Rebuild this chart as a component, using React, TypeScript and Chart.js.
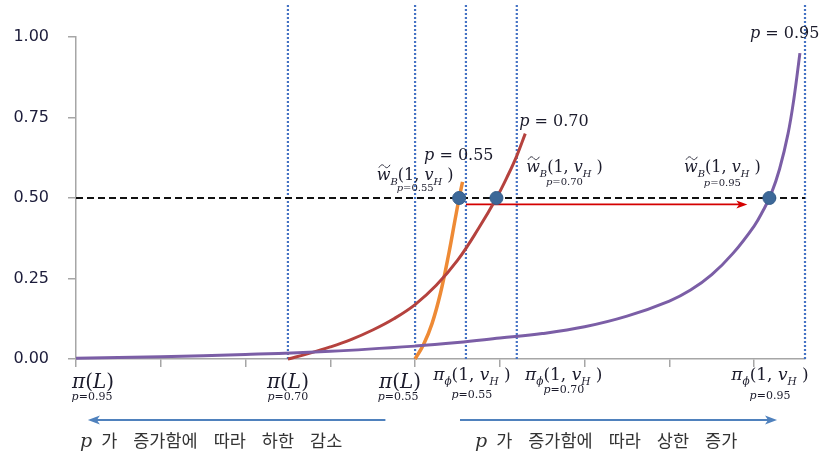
import React, { useEffect, useRef } from "react";
import { Chart, registerables } from "chart.js";

Chart.register(...registerables);

// Axis ticks
const xTicks = [0, 1, 2, 3, 4, 5, 6, 7, 8];
const yTicks = [0, 0.25, 0.5, 0.75, 1];

// Bounds: lower bound π(L) and upper bound π_φ(1, v_H) for each p
const lowerBounds = [0, 2.5, 4.0]; // p = 0.95, 0.70, 0.55
const upperBounds = [8.6, 5.2, 4.6]; // p = 0.95, 0.70, 0.55

// p = 0.95 curve
const curve95X = [0, 1, 2, 3, 4, 4.5, 5, 5.5, 6, 6.5, 7, 7.25, 7.5, 7.75, 8.0, 8.1, 8.2, 8.3, 8.4, 8.47, 8.54];
const curve95Y = [0.002, 0.007, 0.014, 0.024, 0.04, 0.051, 0.065, 0.079, 0.1, 0.133, 0.18, 0.214, 0.262, 0.328, 0.413, 0.458, 0.512, 0.59, 0.7, 0.81, 0.95];

// p = 0.70 curve
const curve70X = [2.5, 2.75, 3.0, 3.25, 3.5, 3.75, 4.0, 4.25, 4.5, 4.75, 4.96, 5.1, 5.2, 5.3];
const curve70Y = [0, 0.0175, 0.0375, 0.061, 0.09, 0.125, 0.169, 0.229, 0.306, 0.406, 0.5, 0.573, 0.631, 0.7];

// p = 0.55 curve
const curve55X = [4.0, 4.1, 4.2, 4.3, 4.4, 4.47, 4.52, 4.56];
const curve55Y = [0, 0.045, 0.11, 0.205, 0.33, 0.43, 0.5, 0.55];

// Threshold and crossing points w̃_B(1, v_H)
const threshold = 0.5;
const crossX = [8.18, 4.96, 4.52];

// Shift of the upper bound (red arrow)
const shiftFrom = 4.6;
const shiftTo = 7.92;
const shiftLevel = 0.48;

const pLabels = ["0.95", "0.70", "0.55"];

const lowerCaption = ["가", "증가함에", "따라", "하한", "감소"];
const upperCaption = ["가", "증가함에", "따라", "상한", "증가"];

type Seg = { t: string; it?: boolean; sub?: boolean; tilde?: boolean };

const SERIF = '"DejaVu Serif", "Liberation Serif", serif';
const KR = '"Noto Sans CJK KR", sans-serif';

function segFont(s: Seg, size: number) {
  const sz = s.sub ? size * 0.62 : size;
  return `${s.it ? "italic " : ""}${sz}px ${SERIF}`;
}

function drawMath(
  ctx: CanvasRenderingContext2D,
  segs: Seg[],
  x: number,
  y: number,
  size: number,
  align: "left" | "center",
  color: string
) {
  ctx.save();
  ctx.textBaseline = "alphabetic";
  ctx.textAlign = "left";
  ctx.fillStyle = color;
  ctx.strokeStyle = color;
  let total = 0;
  const widths = segs.map((s) => {
    ctx.font = segFont(s, size);
    const w = ctx.measureText(s.t).width;
    total += w;
    return w;
  });
  let cx = align === "center" ? x - total / 2 : x;
  segs.forEach((s, i) => {
    ctx.font = segFont(s, size);
    const by = s.sub ? y + size * 0.3 : y;
    ctx.fillText(s.t, cx, by);
    if (s.tilde) {
      // wavy accent over the glyph
      const x0 = cx + 2;
      const x1 = cx + widths[i] - 0.5;
      const ty = by - size * 0.86;
      const a = size * 0.09;
      const m = (x1 - x0) / 4;
      ctx.lineWidth = 0.9;
      ctx.beginPath();
      ctx.moveTo(x0, ty + a);
      ctx.bezierCurveTo(x0 + m, ty - 2 * a, x0 + m * 1.5, ty - a, x0 + 2 * m, ty);
      ctx.bezierCurveTo(x0 + m * 2.5, ty + a, x0 + m * 3, ty + 2 * a, x1, ty - a);
      ctx.stroke();
    }
    cx += widths[i];
  });
  ctx.restore();
}

function drawCaption(ctx: CanvasRenderingContext2D, words: string[], x: number, y: number, color: string) {
  ctx.save();
  ctx.textBaseline = "alphabetic";
  ctx.textAlign = "left";
  ctx.fillStyle = color;
  ctx.font = `italic 19px ${SERIF}`;
  ctx.fillText("p", x, y);
  let cx = x + ctx.measureText("p").width + 9;
  ctx.font = `17.5px ${KR}`;
  words.forEach((w) => {
    ctx.fillText(w, cx, y);
    cx += ctx.measureText(w).width + 16;
  });
  ctx.restore();
}

function arrowHead(
  ctx: CanvasRenderingContext2D,
  x: number,
  y: number,
  dir: number,
  len: number,
  half: number,
  color: string
) {
  ctx.save();
  ctx.fillStyle = color;
  ctx.beginPath();
  ctx.moveTo(x, y);
  ctx.lineTo(x - dir * len, y - half);
  ctx.lineTo(x - dir * len * 0.75, y);
  ctx.lineTo(x - dir * len, y + half);
  ctx.closePath();
  ctx.fill();
  ctx.restore();
}

const pEq = (p: string): Seg[] => [{ t: "p", it: true }, { t: " = " + p }];
const pSub = (p: string): Seg[] => [{ t: "p", it: true }, { t: "=" + p }];
const wLabel: Seg[] = [
  { t: "w", it: true, tilde: true },
  { t: "B", it: true, sub: true },
  { t: "(1, " },
  { t: "v", it: true },
  { t: "H", it: true, sub: true },
  { t: " )" },
];
const piPhi: Seg[] = [
  { t: "π", it: true },
  { t: "ϕ", it: true, sub: true },
  { t: "(1, " },
  { t: "v", it: true },
  { t: "H", it: true, sub: true },
  { t: " )" },
];
const piL: Seg[] = [{ t: "π", it: true }, { t: "(" }, { t: "L", it: true }, { t: ")" }];

const TEXT = "#1b1b2b";
const BLUE = "#4f81bd";

const annotations = {
  id: "annotations",
  afterDraw(chart: any) {
    const { ctx, chartArea, scales } = chart;
    const xs = (v: number) => scales.x.getPixelForValue(v);
    const ys = (v: number) => scales.y.getPixelForValue(v);
    const b = chartArea.bottom;

    // arrowhead of the red shift arrow
    arrowHead(ctx, xs(shiftTo), ys(shiftLevel), 1, 11, 4, "#d40000");

    // curve labels at the top
    drawMath(ctx, pEq(pLabels[0]), xs(8.6) - 55, 38, 16, "left", TEXT);
    drawMath(ctx, pEq(pLabels[1]), xs(5.3) - 6, 126, 16, "left", TEXT);
    drawMath(ctx, pEq(pLabels[2]), xs(4.0) + 9, 160, 16, "left", TEXT);

    // w̃_B(1, v_H) labels near the crossings
    const wPos = [
      { c: xs(crossX[0]) - 47, y: 172, sy: 186 },
      { c: xs(crossX[1]) + 68, y: 172, sy: 185 },
      { c: xs(crossX[2]) - 44, y: 180, sy: 191 },
    ];
    wPos.forEach((w, i) => {
      drawMath(ctx, wLabel, w.c, w.y, 16, "center", TEXT);
      drawMath(ctx, pSub(pLabels[i]), w.c, w.sy, 10, "center", TEXT);
    });

    // lower bound labels under the axis
    const lPos = [
      { c: xs(lowerBounds[0]) + 17, sc: xs(lowerBounds[0]) + 16 },
      { c: xs(lowerBounds[1]), sc: xs(lowerBounds[1]) },
      { c: xs(lowerBounds[2]) - 15, sc: xs(lowerBounds[2]) - 17 },
    ];
    lPos.forEach((l, i) => {
      drawMath(ctx, piL, l.c, b + 29, 20, "center", TEXT);
      drawMath(ctx, pSub(pLabels[i]), l.sc, b + 41, 11, "center", TEXT);
    });

    // upper bound labels under the axis
    const uPos = [
      { c: xs(upperBounds[0]) - 35, sy: b + 40 },
      { c: xs(upperBounds[1]) + 47, sy: b + 34 },
      { c: xs(upperBounds[2]) + 6, sy: b + 39 },
    ];
    uPos.forEach((u, i) => {
      drawMath(ctx, piPhi, u.c, b + 21, 17, "center", TEXT);
      drawMath(ctx, pSub(pLabels[i]), u.c, u.sy, 11, "center", TEXT);
    });

    // direction arrows below the axis
    const ay = b + 61;
    ctx.save();
    ctx.strokeStyle = BLUE;
    ctx.lineWidth = 2;
    ctx.beginPath();
    ctx.moveTo(xs(3.65), ay);
    ctx.lineTo(xs(0.14) + 6, ay);
    ctx.moveTo(xs(4.53), ay);
    ctx.lineTo(xs(8.27) - 6, ay);
    ctx.stroke();
    ctx.restore();
    arrowHead(ctx, xs(0.14), ay, -1, 12, 4.5, BLUE);
    arrowHead(ctx, xs(8.27), ay, 1, 12, 4.5, BLUE);

    drawCaption(ctx, lowerCaption, 80, b + 88, "#333333");
    drawCaption(ctx, upperCaption, 475, b + 88, "#333333");
  },
};

const pts = (xsArr: number[], ysArr: number[]) => xsArr.map((x, i) => ({ x, y: ysArr[i] }));

export default function App() {
  const ref = useRef<HTMLCanvasElement>(null);

  useEffect(() => {
    if (!ref.current) return;
    const allBounds = [...lowerBounds.slice(1), ...upperBounds];

    const curve = (xsArr: number[], ysArr: number[], color: string, width: number) => ({
      data: pts(xsArr, ysArr),
      borderColor: color,
      borderWidth: width,
      pointRadius: 0,
      tension: 0.4,
      clip: false,
      order: 3,
    });

    const datasets: any[] = [
      ...allBounds.map((v) => ({
        data: [
          { x: v, y: 0 },
          { x: v, y: 1.1 },
        ],
        borderColor: "#4472c4",
        borderWidth: 2.2,
        borderDash: [2, 2],
        pointRadius: 0,
        clip: false,
        order: 10,
      })),
      {
        data: [
          { x: 0, y: threshold },
          { x: 8.6, y: threshold },
        ],
        borderColor: "#111111",
        borderWidth: 1.8,
        borderDash: [7, 4],
        pointRadius: 0,
        order: 5,
      },
      {
        data: [
          { x: shiftFrom, y: shiftLevel },
          { x: shiftTo - 0.08, y: shiftLevel },
        ],
        borderColor: "#d40000",
        borderWidth: 1.8,
        pointRadius: 0,
        order: 5,
      },
      curve(curve95X, curve95Y, "#7b5ea6", 3),
      curve(curve70X, curve70Y, "#b5423e", 3),
      curve(curve55X, curve55Y, "#ee8a35", 3.5),
      {
        type: "scatter",
        data: crossX.map((x) => ({ x, y: threshold })),
        backgroundColor: "#3d6898",
        borderColor: "#345d8a",
        borderWidth: 1,
        pointRadius: 6.5,
        clip: false,
        order: 1,
      },
    ];

    const chart = new Chart(ref.current, {
      type: "line",
      data: { datasets },
      options: {
        animation: false,
        responsive: true,
        maintainAspectRatio: false,
        layout: { padding: { top: 37, right: 16, left: 0, bottom: 0 } },
        plugins: { legend: { display: false }, tooltip: { enabled: false } },
        scales: {
          x: {
            type: "linear",
            min: 0,
            max: 8.6,
            afterBuildTicks: (s: any) => {
              s.ticks = xTicks.map((value) => ({ value }));
            },
            afterFit: (s: any) => {
              s.height = 98;
            },
            ticks: { callback: () => "" },
            grid: { drawOnChartArea: false, drawTicks: true, tickLength: 8, color: "#a6a6a6", lineWidth: 1.5 },
            border: { display: true, color: "#a6a6a6", width: 1.5 },
          },
          y: {
            type: "linear",
            min: 0,
            max: 1,
            afterBuildTicks: (s: any) => {
              s.ticks = yTicks.map((value) => ({ value }));
            },
            afterFit: (s: any) => {
              s.width = 76;
            },
            ticks: {
              padding: 19,
              color: "#1c1c3a",
              font: { family: '"DejaVu Sans", Verdana, sans-serif', size: 16 },
              callback: (v: any) => Number(v).toFixed(2),
            },
            grid: { drawOnChartArea: false, drawTicks: true, tickLength: 8, color: "#a6a6a6", lineWidth: 1.5 },
            border: { display: true, color: "#a6a6a6", width: 1.5 },
          },
        },
      },
      plugins: [annotations],
    } as any);
    return () => chart.destroy();
  }, []);

  return (
    <div style={{ position: "absolute", left: 0, top: 0, width: 821, height: 457, background: "#fff" }}>
      <canvas ref={ref} />
    </div>
  );
}
